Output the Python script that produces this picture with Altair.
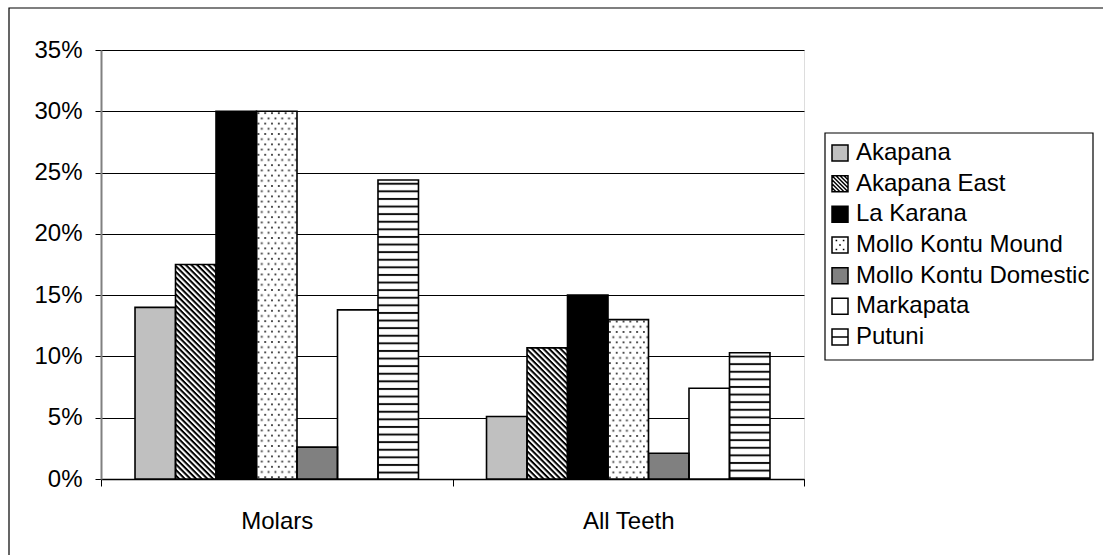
import base64
import altair as alt
import pandas as pd

# ---- data ----
groups = ["Molars", "All Teeth"]
series = ["Akapana", "Akapana East", "La Karana", "Mollo Kontu Mound",
          "Mollo Kontu Domestic", "Markapata", "Putuni"]
molars = [14.0, 17.5, 30.0, 30.0, 2.6, 13.8, 24.4]
all_teeth = [5.1, 10.7, 15.0, 13.0, 2.1, 7.4, 10.3]
y_ticks = [0, 5, 10, 15, 20, 25, 30, 35]

rows = []
for g, vals in zip(groups, [molars, all_teeth]):
    for s, v in zip(series, vals):
        rows.append({"group": g, "series": s, "value": v})
df = pd.DataFrame(rows)
legend_df = pd.DataFrame({"series": series})

FONT = "Liberation Sans"

# ---- styles ----
fill_range = ["#c0c0c0", "#ffffff", "#000000", "#ffffff", "#808080", "#ffffff", "#ffffff"]


def svg_uri(pattern):
    svg = ('<svg xmlns="http://www.w3.org/2000/svg" width="100%" height="100%">'
           '<defs>' + pattern + '</defs>'
           '<rect width="100%" height="100%" fill="#ffffff"/>'
           '<rect width="100%" height="100%" fill="url(#p)"/></svg>')
    return "data:image/svg+xml;base64," + base64.b64encode(svg.encode()).decode()


patterns = {
    "Akapana East": svg_uri('<pattern id="p" width="4" height="4" patternUnits="userSpaceOnUse" '
                            'patternTransform="rotate(45)"><rect width="4" height="2" fill="#000"/></pattern>'),
    "Mollo Kontu Mound": svg_uri('<pattern id="p" width="6.8" height="10.4" patternUnits="userSpaceOnUse">'
                                 '<rect x="1" y="1" width="1.8" height="1.8" fill="#333"/>'
                                 '<rect x="4.4" y="6.2" width="1.8" height="1.8" fill="#333"/></pattern>'),
    "Putuni": svg_uri('<pattern id="p" width="10" height="7.6" patternUnits="userSpaceOnUse">'
                      '<rect y="2.8" width="10" height="2" fill="#111"/></pattern>'),
}

sq = "M-1,-1H1V1H-1Z"
shape_range = [
    sq,
    sq + (" M-0.5,-1L1,0.5 M0,-1L1,0 M0.5,-1L1,-0.5 M-1,-1L1,1"
          " M-1,-0.5L0.5,1 M-1,0L0,1 M-1,0.5L-0.5,1"),
    sq,
    sq + " M-0.55,-0.55h0.2 M0.35,-0.55h0.2 M-0.1,0h0.2 M-0.55,0.55h0.2 M0.35,0.55h0.2",
    sq,
    sq,
    sq + " M-1,0H1",
]

fill_scale = alt.Scale(domain=series, range=fill_range)

x_enc = alt.X("group:N", sort=groups,
              scale=alt.Scale(domain=groups, paddingInner=0, paddingOuter=0),
              axis=alt.Axis(title=None, labelAngle=0, labelFontSize=24, labelFont=FONT,
                            labelColor="black", labelPadding=23, tickBand="extent",
                            tickSize=7, tickColor="black", tickWidth=1,
                            domainColor="black", domainWidth=1.5, grid=False))
xo_enc = alt.XOffset("series:N", sort=series,
                     scale=alt.Scale(domain=series, paddingInner=0, paddingOuter=0.84))
y_enc = alt.Y("value:Q",
              scale=alt.Scale(domain=[0, 35], nice=False, zero=True),
              axis=alt.Axis(values=y_ticks, labelExpr="datum.value + '%'", title=None,
                            grid=True, gridColor="#000000", gridWidth=1,
                            domainColor="#808080", domainWidth=2,
                            tickColor="#000000", tickSize=6, tickWidth=1,
                            labelFontSize=24, labelFont=FONT, labelColor="black",
                            labelPadding=13))

base = alt.Chart(df)

bars = base.mark_bar(strokeWidth=0).encode(
    x=x_enc, xOffset=xo_enc, y=y_enc,
    fill=alt.Fill("series:N", scale=fill_scale, legend=None),
)

pattern_layers = []
for name, uri in patterns.items():
    pattern_layers.append(
        base.transform_filter(alt.datum.series == name).mark_image(aspect=False).encode(
            x=x_enc, xOffset=xo_enc, y=y_enc, y2=alt.datum(0), url=alt.value(uri)
        )
    )

outline = base.mark_bar(fillOpacity=0, stroke="black", strokeWidth=1.6).encode(
    x=x_enc, xOffset=xo_enc, y=y_enc,
)

frame = alt.Chart(pd.DataFrame({"frame": [0]})).mark_rect(
    fillOpacity=0, stroke="black", strokeWidth=1.2
).encode(
    x=alt.value(-92), x2=alt.value(1010), y=alt.value(-42), y2=alt.value(520)
)

main = alt.layer(bars, *pattern_layers, outline, frame)

# ---- legend (drawn from the series list) ----
leg_y = alt.Y("series:N", sort=series, axis=None,
              scale=alt.Scale(type="point", domain=series, range=[103, 287], padding=0))

leg_box = alt.Chart(pd.DataFrame({"box": [0]})).mark_rect(
    fill="white", stroke="black", strokeWidth=1.2
).encode(
    x=alt.value(724), x2=alt.value(992), y=alt.value(83), y2=alt.value(310)
)

leg_sym = alt.Chart(legend_df).mark_point(filled=True, size=256, stroke="black",
                                          strokeWidth=1.5, opacity=1).encode(
    x=alt.value(739), y=leg_y,
    fill=alt.Fill("series:N", scale=fill_scale, legend=None),
    shape=alt.Shape("series:N", scale=alt.Scale(domain=series, range=shape_range), legend=None),
)

leg_txt = alt.Chart(legend_df).mark_text(
    align="left", baseline="middle", font=FONT, fontSize=24, color="black"
).encode(
    x=alt.value(755), y=leg_y, text=alt.Text("series:N"),
)

legend_layer = alt.layer(leg_box, leg_sym, leg_txt)

chart = alt.layer(main, legend_layer).resolve_scale(y="independent").properties(
    width=703, height=429,
    autosize=alt.AutoSizeParams(type="none"),
    padding={"left": 101, "top": 50, "right": 299, "bottom": 76},
).configure_view(
    stroke="#808080", strokeWidth=2
).configure(background="white")

chart.save("out.html", embed_options={"renderer": "svg", "actions": False})
